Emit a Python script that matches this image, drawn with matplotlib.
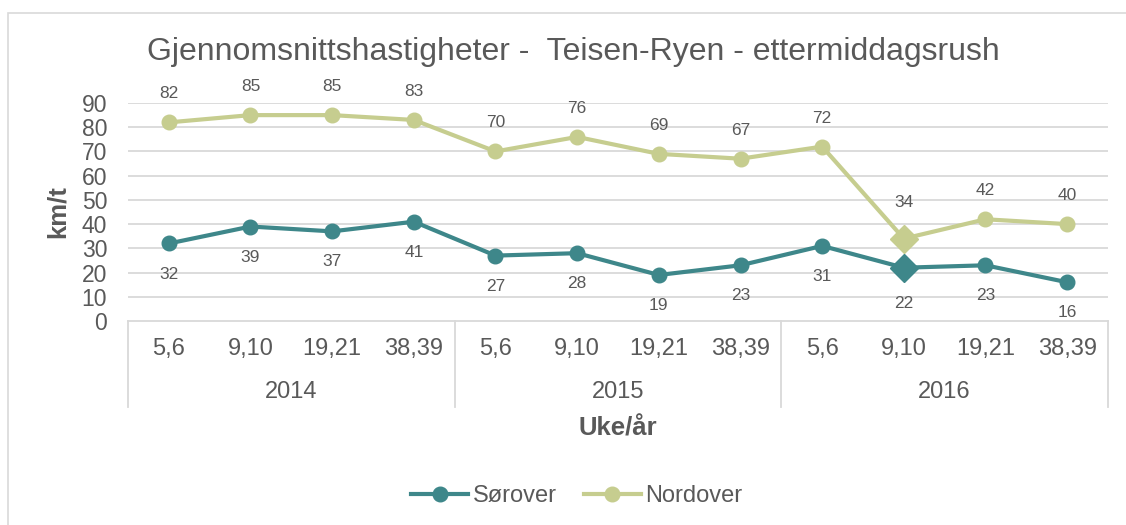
import matplotlib.pyplot as plt
from matplotlib import transforms
from matplotlib.lines import Line2D
from matplotlib.patches import Rectangle

# Data
weeks = ['5,6', '9,10', '19,21', '38,39'] * 3
years = ['2014', '2015', '2016']
sorover = [32, 39, 37, 41, 27, 28, 19, 23, 31, 22, 23, 16]
nordover = [82, 85, 85, 83, 70, 76, 69, 67, 72, 34, 42, 40]
diamond_idx = 9

plt.rcParams['font.family'] = ['Liberation Sans', 'DejaVu Sans']
txt = '#595959'
grid_c = '#D9D9D9'
teal = '#3E878A'
olive = '#C6CD8F'

W, H = 1126, 525
fig = plt.figure(figsize=(W / 100, H / 100), dpi=100)

# outer chart border
fig.patches.append(Rectangle((8 / W, -0.1), 1.2, 1 - 13 / H + 0.1, transform=fig.transFigure,
                             fill=False, edgecolor=grid_c, lw=1.2))

left, right, top, bottom = 128, 1108, 103, 321
ax = fig.add_axes([left / W, 1 - bottom / H, (right - left) / W, (bottom - top) / H])
ax.set_xlim(-0.5, 11.5)
ax.set_ylim(0, 90)
for s in ax.spines.values():
    s.set_visible(False)
ax.set_xticks([])
ax.set_yticks(range(0, 91, 10))
ax.tick_params(axis='y', length=0, pad=15, labelsize=16.5, labelcolor=txt)
for v in range(10, 91, 10):
    ax.axhline(v, color=grid_c, lw=1.3, zorder=0)

# category axis box
ax.axhline(0, color=grid_c, lw=1.3, clip_on=False)
bt = transforms.blended_transform_factory(ax.transData, fig.transFigure)
for xv in [-0.5, 3.5, 7.5, 11.5]:
    fig.lines.append(Line2D([xv, xv], [1 - 321 / H, 1 - 407 / H], transform=bt,
                            color=grid_c, lw=1.3))
for i, w in enumerate(weeks):
    ax.text(i, 1 - 349 / H, w, transform=bt, ha='center', va='center', fontsize=17, color=txt)
for j, y in enumerate(years):
    ax.text(4 * j + 1.5, 1 - 392 / H, y, transform=bt, ha='center', va='center',
            fontsize=17, color=txt)

x = list(range(len(weeks)))
for vals, col, sign, base in [(sorover, teal, -1, 22), (nordover, olive, 1, 20.5)]:
    ax.plot(x, vals, color=col, lw=3, marker='o', ms=10.5, zorder=3, clip_on=False)
    ax.plot([diamond_idx], [vals[diamond_idx]], color=col, marker='D', ms=14, zorder=4,
            ls='none', clip_on=False)
    for i, v in enumerate(vals):
        off = base if i != diamond_idx else 26
        ax.annotate(str(v), (i, v), xytext=(0, sign * off), textcoords='offset points',
                    ha='center', va='center', fontsize=12.5, color=txt, annotation_clip=False)

fig.text(573 / W, 1 - 52 / H, 'Gjennomsnittshastigheter -  Teisen-Ryen - ettermiddagsrush',
         ha='center', va='center', fontsize=23, color=txt)
fig.text(618 / W, 1 - 428 / H, 'Uke/år', ha='center', va='center', fontsize=18.5,
         fontweight='bold', color=txt)
fig.text(58 / W, 1 - 212 / H, 'km/t', ha='center', va='center', rotation=90, fontsize=18.5,
         fontweight='bold', color=txt)

handles = [Line2D([], [], color=teal, lw=3, marker='o', ms=10.5),
           Line2D([], [], color=olive, lw=3, marker='o', ms=10.5)]
leg = fig.legend(handles, ['Sørover', 'Nordover'], loc='center', bbox_to_anchor=(577 / W, 1 - 496 / H),
                 ncol=2, frameon=False, fontsize=17, handlelength=2.4, handletextpad=0.2,
                 columnspacing=1.15, labelcolor=txt)

fig.savefig('out.png', dpi=100)
